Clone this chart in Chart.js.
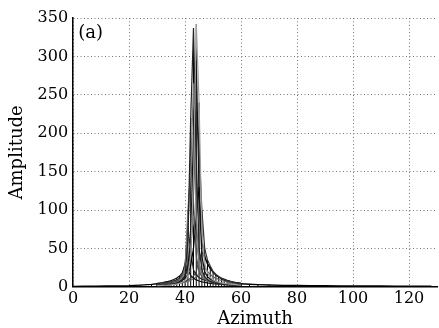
<!DOCTYPE html>
<html>
<head>
<meta charset="utf-8">
<script src="https://cdn.jsdelivr.net/npm/chart.js@4/dist/chart.umd.min.js"></script>
<style>
  body { margin: 0; background: #fff; }
  #caja { width: 439px; height: 328px; }
</style>
</head>
<body>
<div id="caja"><canvas id="grafica"></canvas></div>
<script>
// azimut del lobulo principal (paso 1)
const azimut = [30, 31, 32, 33, 34, 35, 36, 37, 38, 39, 40, 41, 42, 43, 44, 45,
                46, 47, 48, 49, 50, 51, 52, 53, 54, 55, 56, 57, 58, 59, 60];

// cada fila de la malla
const fila1 = [1.5,1.6,1.8,2,2.2,2.5,3,3.5,4.5,6,8,15,40,140,342,240,70,30,18,12,9,7,6,5,4.5,4,3.5,3,2.8,2.5,2.3];
const fila2 = [1.5,1.7,1.9,2.1,2.4,2.8,3.3,4,5.5,8,14,60,220,337,170,50,22,13,9,7,5.5,4.5,4,3.5,3,2.7,2.5,2.3,2.1,2,1.8];
const fila3 = [2,2.2,2.4,2.7,3,3.4,4,5,6.5,9,15,28,60,200,295,120,40,20,13,10,8,6.5,5.5,4.8,4.2,3.8,3.4,3,2.8,2.6,2.4];
const fila4 = [2,2.3,2.6,3,3.4,4,4.8,6,8,12,25,100,150,265,90,30,16,11,8,6.5,5.5,4.8,4.2,3.8,3.4,3.1,2.9,2.7,2.5,2.3,2.2];
const fila5 = [2.5,2.8,3.1,3.5,4,4.6,5.4,6.5,8,10,14,22,45,120,230,180,100,50,35,27,20,16,13,11,9,8,7,6,5,4.5,4];
const fila6 = [2.5,2.8,3.2,3.7,4.3,5,6,7.5,10,14,25,70,170,110,40,20,13,10,8,6.5,5.5,5,4.5,4,3.6,3.3,3,2.8,2.6,2.4,2.2];
const fila7 = [3,3.3,3.6,4,4.5,5,5.6,6.3,7.2,8.5,11,16,28,50,90,130,60,40,30,24,19,15,12.5,10.5,9,8,7,6.2,5.5,5,4.5];
const fila8 = [3,3.3,3.7,4.2,4.8,5.5,6.4,7.5,9,12,18,30,50,90,60,30,18,13,10.5,8.5,7,6,5.2,4.6,4.2,3.8,3.5,3.2,3,2.8,2.6];
const fila9 = [3.5,4,4.5,5,5.7,6.5,7.5,9,11.5,15,28,80,45,22,15,12,10,8.5,7.3,6.4,5.6,5,4.5,4.1,3.7,3.4,3.1,2.9,2.7,2.5,2.3];
const fila10 = [2.5,2.7,3,3.3,3.6,4,4.5,5,5.6,6.5,7.5,9,11,14,20,35,45,38,30,24,19,16,13.5,11.5,10,8.5,7.5,6.6,5.8,5.2,4.6];
const fila11 = [4.5,5,5.6,6.3,7,8,9.5,11.5,14,18,30,22,15,11,9,7.5,6.5,5.7,5,4.5,4,3.7,3.4,3.1,2.9,2.7,2.5,2.3,2.2,2,1.9];
const fila12 = [2,2.2,2.4,2.6,2.9,3.2,3.6,4,4.5,5.2,6,7,8.5,10.5,13,17,21,25,20,16,13,11,9.5,8.2,7.2,6.3,5.5,4.9,4.3,3.8,3.4];

// colas fuera del lobulo (null corta la linea en el centro)
const azimutCola = [0, 4, 8, 12, 16, 20, 24, 28, 30, 45, 60, 63, 66, 70, 75, 80, 85, 90, 95, 100, 105, 110, 115, 120, 125, 128];
const amplitudCola = [0.6, 0.7, 0.8, 1, 1.2, 1.5, 2.2, 3.2, 4, null, 4, 3.3, 2.8, 2.3, 1.9, 1.6, 1.4, 1.3, 1.2, 1.1, 1, 1, 0.9, 0.9, 0.8, 0.8];

const marcasX = [0, 20, 40, 60, 80, 100, 120];

const filas = [fila1, fila2, fila3, fila4, fila5, fila6, fila7, fila8, fila9, fila10, fila11, fila12];
const colores = ['#a0a0a0', '#222', '#111', '#777', '#333', '#555', '#000', '#888', '#222', '#444', '#111', '#666'];

function puntos(xs, ys) {
    let res = [];
    for (let i = 0; i < xs.length; i++) {
        res.push({ x: xs[i], y: ys[i] });
    }
    return res;
}

// lineas verticales de la malla: de 0 al maximo de las filas en cada columna
function columnas() {
    let res = [];
    for (let i = 0; i < azimut.length; i++) {
        let alto = 0;
        for (let f of filas) {
            if (f[i] > alto) alto = f[i];
        }
        res.push({ x: azimut[i], y: 0 });
        res.push({ x: azimut[i], y: alto });
        res.push({ x: azimut[i], y: null });
    }
    for (let i = 0; i < azimutCola.length; i++) {
        if (amplitudCola[i] == null) continue;
        res.push({ x: azimutCola[i], y: 0 });
        res.push({ x: azimutCola[i], y: amplitudCola[i] });
        res.push({ x: azimutCola[i], y: null });
    }
    return res;
}

let datasets = [];
for (let i = 0; i < filas.length; i++) {
    datasets.push({
        data: puntos(azimut, filas[i]),
        borderColor: colores[i],
        borderWidth: 1.2,
        pointRadius: 0,
        tension: 0
    });
}
datasets.push({
    data: puntos(azimutCola, amplitudCola),
    borderColor: '#000',
    borderWidth: 1.4,
    pointRadius: 0,
    spanGaps: false
});
datasets.push({
    data: columnas(),
    borderColor: '#000',
    borderWidth: 1,
    pointRadius: 0,
    spanGaps: false
});

// etiqueta (a) dentro del area de la grafica
const etiqueta = {
    id: 'etiqueta',
    afterDraw(chart) {
        const ctx = chart.ctx;
        ctx.save();
        ctx.font = '18px "DejaVu Serif"';
        ctx.fillStyle = '#000';
        ctx.textBaseline = 'alphabetic';
        ctx.fillText('(a)', chart.chartArea.left + 5, chart.chartArea.top + 20);
        ctx.restore();
    }
};

Chart.defaults.font.family = '"DejaVu Serif", serif';
Chart.defaults.color = '#000';

const ctx = document.getElementById('grafica').getContext('2d');
const grafica = new Chart(ctx, {
    type: 'line',
    data: { datasets: datasets },
    plugins: [etiqueta],
    options: {
        responsive: true,
        maintainAspectRatio: false,
        animation: false,
        layout: { padding: { left: 3, right: 2, top: 18, bottom: 0 } },
        plugins: { legend: { display: false }, tooltip: { enabled: false } },
        scales: {
            x: {
                type: 'linear',
                min: 0,
                max: 130,
                afterBuildTicks: function (eje) {
                    eje.ticks = marcasX.map(v => ({ value: v }));
                },
                grid: { color: '#777', lineWidth: 1, drawTicks: false },
                border: { color: '#000', width: 1.5, dash: [1, 2.5] },
                ticks: { font: { size: 16 }, padding: 2, maxRotation: 0 },
                title: { display: true, text: 'Azimuth', font: { size: 18, lineHeight: 1 }, padding: 0 }
            },
            y: {
                min: 0,
                max: 350,
                ticks: { stepSize: 50, font: { size: 16 }, padding: 5 },
                grid: { color: '#777', lineWidth: 1, drawTicks: false },
                border: { color: '#000', width: 1.5, dash: [1, 2.5] },
                title: { display: true, text: 'Amplitude', font: { size: 18 }, padding: 4 }
            }
        }
    }
});
</script>
</body>
</html>
